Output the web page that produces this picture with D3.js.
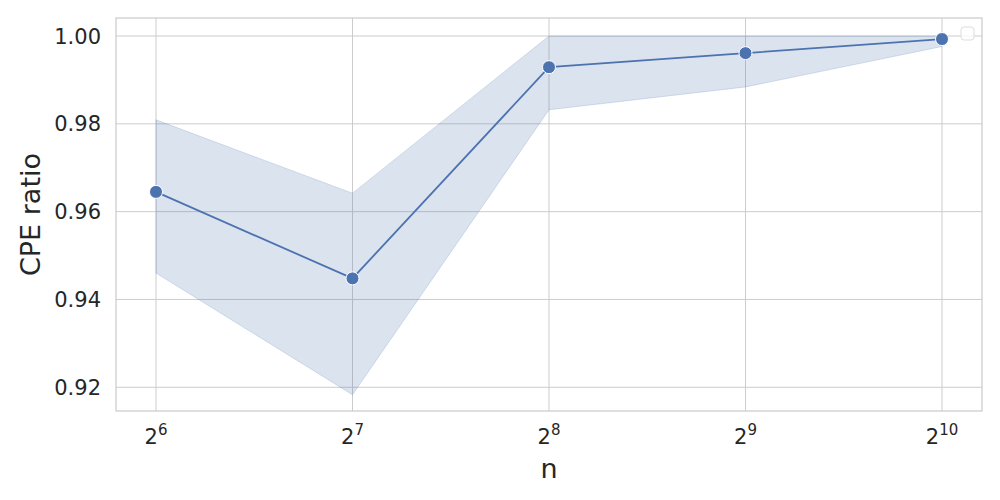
<!DOCTYPE html>
<html lang="en">
<head>
    <meta charset="UTF-8">
    <title>CPE ratio vs n</title>
    <script src="https://cdn.jsdelivr.net/npm/d3@7"></script>
    <style>
        body { margin: 0; background: #fff; }
        text { font-family: "DejaVu Sans", sans-serif; fill: #262626; }
    </style>
</head>
<body>
<div id="chart"></div>
<script>

    // Values.
    const exponents = [6, 7, 8, 9, 10];
    const meanRatio = [0.9645, 0.9448, 0.9929, 0.9961, 0.9993];
    const upperBand = [0.9809, 0.9642, 1.0000, 1.0000, 1.0000];
    const lowerBand = [0.9460, 0.9183, 0.9832, 0.9884, 0.9976];
    const yTicks = [0.92, 0.94, 0.96, 0.98, 1.00];

    const width = 1000;
    const height = 500;
    const margin = {top: 18, right: 18, bottom: 89, left: 116};

    const color = "#4c72b0";

    const svg = d3.select("#chart").append("svg")
        .attr("width", width)
        .attr("height", height);

    const pad = 0.2036;
    const x = d3.scaleLog().base(2)
        .domain([2 ** (6 - pad), 2 ** (10 + pad)])
        .range([margin.left, width - margin.right]);

    const y = d3.scaleLinear()
        .domain([0.9146, 1.0041])
        .range([height - margin.bottom, margin.top]);

    const data = exponents.map((e, i) => ({
        n: 2 ** e, e: e, mean: meanRatio[i], lo: lowerBand[i], hi: upperBand[i]
    }));

    // grid
    const grid = svg.append("g").attr("stroke", "#cccccc").attr("stroke-width", 1);
    grid.selectAll("line.v").data(exponents).join("line")
        .attr("x1", d => x(2 ** d)).attr("x2", d => x(2 ** d))
        .attr("y1", margin.top).attr("y2", height - margin.bottom);
    grid.selectAll("line.h").data(yTicks).join("line")
        .attr("x1", margin.left).attr("x2", width - margin.right)
        .attr("y1", d => y(d)).attr("y2", d => y(d));

    // confidence band
    const area = d3.area()
        .x(d => x(d.n))
        .y0(d => y(d.lo))
        .y1(d => y(d.hi));
    svg.append("path")
        .datum(data)
        .attr("d", area)
        .attr("fill", color)
        .attr("fill-opacity", 0.2)
        .attr("stroke", color)
        .attr("stroke-opacity", 0.2)
        .attr("stroke-width", 1);

    // line
    const line = d3.line().x(d => x(d.n)).y(d => y(d.mean));
    svg.append("path")
        .datum(data)
        .attr("d", line)
        .attr("fill", "none")
        .attr("stroke", color)
        .attr("stroke-width", 1.8);

    svg.append("g").selectAll("circle").data(data).join("circle")
        .attr("cx", d => x(d.n))
        .attr("cy", d => y(d.mean))
        .attr("r", 6.5)
        .attr("fill", color)
        .attr("stroke", "#fff")
        .attr("stroke-width", 1);

    // frame
    svg.append("rect")
        .attr("x", margin.left).attr("y", margin.top)
        .attr("width", width - margin.left - margin.right)
        .attr("height", height - margin.top - margin.bottom)
        .attr("fill", "none")
        .attr("stroke", "#cccccc")
        .attr("stroke-width", 1.25);

    // y tick labels
    svg.append("g").selectAll("text").data(yTicks).join("text")
        .attr("x", margin.left - 15)
        .attr("y", d => y(d))
        .attr("dy", "0.36em")
        .attr("text-anchor", "end")
        .attr("font-size", 21)
        .text(d => d3.format(".2f")(d));

    // x tick labels 2^k
    const xt = svg.append("g").selectAll("text").data(exponents).join("text")
        .attr("x", d => x(2 ** d))
        .attr("y", 444)
        .attr("text-anchor", "middle")
        .attr("font-size", 21);
    xt.append("tspan").text("2");
    xt.append("tspan")
        .attr("font-size", 15)
        .attr("dy", -9)
        .text(d => d);

    // axis labels
    svg.append("text")
        .attr("x", (margin.left + width - margin.right) / 2)
        .attr("y", 478)
        .attr("text-anchor", "middle")
        .attr("font-size", 27)
        .text("n");

    svg.append("text")
        .attr("transform", `translate(40, ${(margin.top + height - margin.bottom) / 2}) rotate(-90)`)
        .attr("text-anchor", "middle")
        .attr("font-size", 27)
        .text("CPE ratio");

    // empty legend box
    svg.append("rect")
        .attr("x", 961).attr("y", 27)
        .attr("width", 13).attr("height", 13)
        .attr("rx", 3)
        .attr("fill", "#fff")
        .attr("fill-opacity", 0.8)
        .attr("stroke", "#dddddd")
        .attr("stroke-width", 1);

</script>
</body>
</html>
